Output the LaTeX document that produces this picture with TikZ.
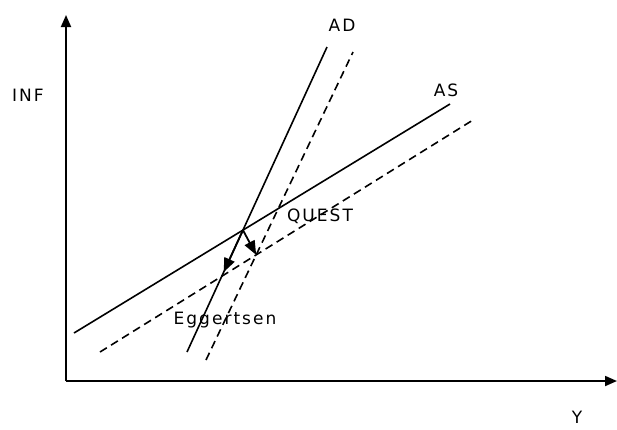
\documentclass[tikz,border=0pt]{standalone}
\usepackage{fontspec}
\setmainfont{DejaVu Sans}[LetterSpace=12]
\usetikzlibrary{arrows.meta,intersections,calc}
\begin{document}
\begin{tikzpicture}[x=1pt,y=-1pt,
  lbl/.style={font=\fontsize{17}{20}\selectfont, inner sep=0pt},
  curve/.style={line width=1.6pt},
  shifted/.style={line width=1.6pt, dash pattern=on 8pt off 5pt},
  axis/.style={line width=1.8pt, -{Triangle[length=12pt,width=10pt]}},
  move/.style={line width=1.8pt, -{Triangle[length=14pt,width=11pt]}}]
\useasboundingbox (0,0) rectangle (617,429);
% axes
\coordinate (O) at (66,381);
\coordinate (Ytop) at (66,15);
\coordinate (Xend) at (617,381);
\draw[axis] (O) -- (Ytop);
\draw[axis] (O) -- (Xend);
% curves
\coordinate (ad1) at (187,352); \coordinate (ad2) at (327,47);
\coordinate (bd1) at (206,360); \coordinate (bd2) at (353,52);
\coordinate (as1) at (74,333);  \coordinate (as2) at (450,104);
\coordinate (bs1) at (100,352); \coordinate (bs2) at (473,120);
\draw[curve, name path=AD] (ad1) -- (ad2);
\draw[shifted, name path=ADd] (bd1) -- (bd2);
\draw[curve, name path=AS] (as1) -- (as2);
\draw[shifted, name path=ASd] (bs1) -- (bs2);
\path[name intersections={of=AD and AS, by=E}];
\path[name intersections={of=ADd and ASd, by=E2}];
\coordinate (Dn) at ($(ad1)!0.262!(ad2)$);
% movements
\draw[move] (E) -- (Dn);
\draw[move] (E) -- (E2);
% labels
\node[lbl] (inf) at (28,95) {INF};
\node[lbl] (y) at (577,417) {Y};
\node[lbl] (ad) at (342,25) {AD};
\node[lbl] (as) at (446,90) {AS};
\node[lbl] (quest) at (320,216) {QUEST};
\node[lbl] (egg) at (225,320) {Eggertsen};
\end{tikzpicture}
\end{document}
